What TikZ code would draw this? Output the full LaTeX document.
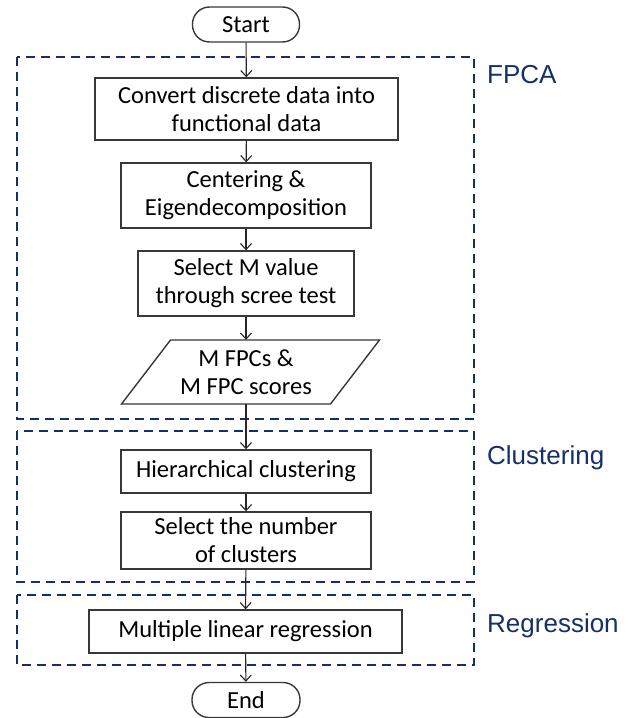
\documentclass[tikz,border=0pt]{standalone}
\usepackage{fontspec}
\setmainfont{Carlito}
\newfontfamily\labelfont{Liberation Sans}
\usetikzlibrary{arrows.meta}
\definecolor{navy}{HTML}{14306A}
\definecolor{boxline}{HTML}{383838}

\begin{document}
\begin{tikzpicture}[x=1pt,y=-1pt,
  proc/.style={draw=boxline, line width=1.4pt, align=center, inner sep=0pt,
    font=\fontsize{24.5}{28}\selectfont},
  term/.style={proc, rounded corners=17pt},
  flow/.style={-{Straight Barb[length=6pt,width=11pt]}, line width=1.1pt, draw=black!85},
  stage/.style={draw=navy, line width=2pt, dash pattern=on 9pt off 6pt},
  stagelabel/.style={anchor=west, text=navy, inner sep=0pt,
    font=\labelfont\fontsize{26}{30}\selectfont}]

\useasboundingbox (0,0) rectangle (636,718);

% stage frames
\draw[stage] (17,57) rectangle (474,419);
\draw[stage] (17,431) rectangle (474,582);
\draw[stage] (17,595) rectangle (474,665);

\node[stagelabel] (lfpca) at (487,75) {FPCA};
\node[stagelabel] (lclus) at (487,458) {Clustering};
\node[stagelabel] (lreg)  at (487,626) {Regression};

% flow steps
\node[term, minimum width=107pt, minimum height=35pt] (start) at (246,24.5) {Start};
\node[proc, minimum width=303pt, minimum height=62pt] (convert) at (246.5,109)
  {Convert discrete data into\\functional data};
\node[proc, minimum width=250pt, minimum height=65pt] (eigen) at (246,195.5)
  {Centering \&\\Eigendecomposition};
\node[proc, minimum width=216pt, minimum height=65pt] (scree) at (246,283.5)
  {Select M value\\through scree test};
\node[align=center, inner sep=0pt, minimum width=160pt, minimum height=64pt,
  font=\fontsize{24.5}{28}\selectfont] (fpcs) at (246,372)
  {M FPCs \&\\M FPC scores};
\draw[draw=boxline, line width=1.4pt, line join=miter]
  (170.5,340) -- (379.5,340) -- (330.5,404) -- (121.5,404) -- cycle;
\node[proc, minimum width=250pt, minimum height=43pt] (hier) at (246,471.5)
  {Hierarchical clustering};
\node[proc, minimum width=250pt, minimum height=57pt] (ncl) at (246,540.5)
  {Select the number\\of clusters};
\node[proc, minimum width=313pt, minimum height=43pt] (mlr) at (245.5,631.5)
  {Multiple linear regression};
\node[term, minimum width=108pt, minimum height=35pt] (end) at (246,700)
  {End};

% connectors
\draw[flow] (start) -- (convert);
\draw[flow] (convert) -- (eigen);
\draw[flow] (eigen) -- (scree);
\draw[flow] (scree) -- (fpcs);
\draw[flow] (fpcs) -- (hier);
\draw[flow] (hier) -- (ncl);
\draw[flow] (ncl) -- (mlr);
\draw[flow] (mlr) -- (end);
\end{tikzpicture}
\end{document}
